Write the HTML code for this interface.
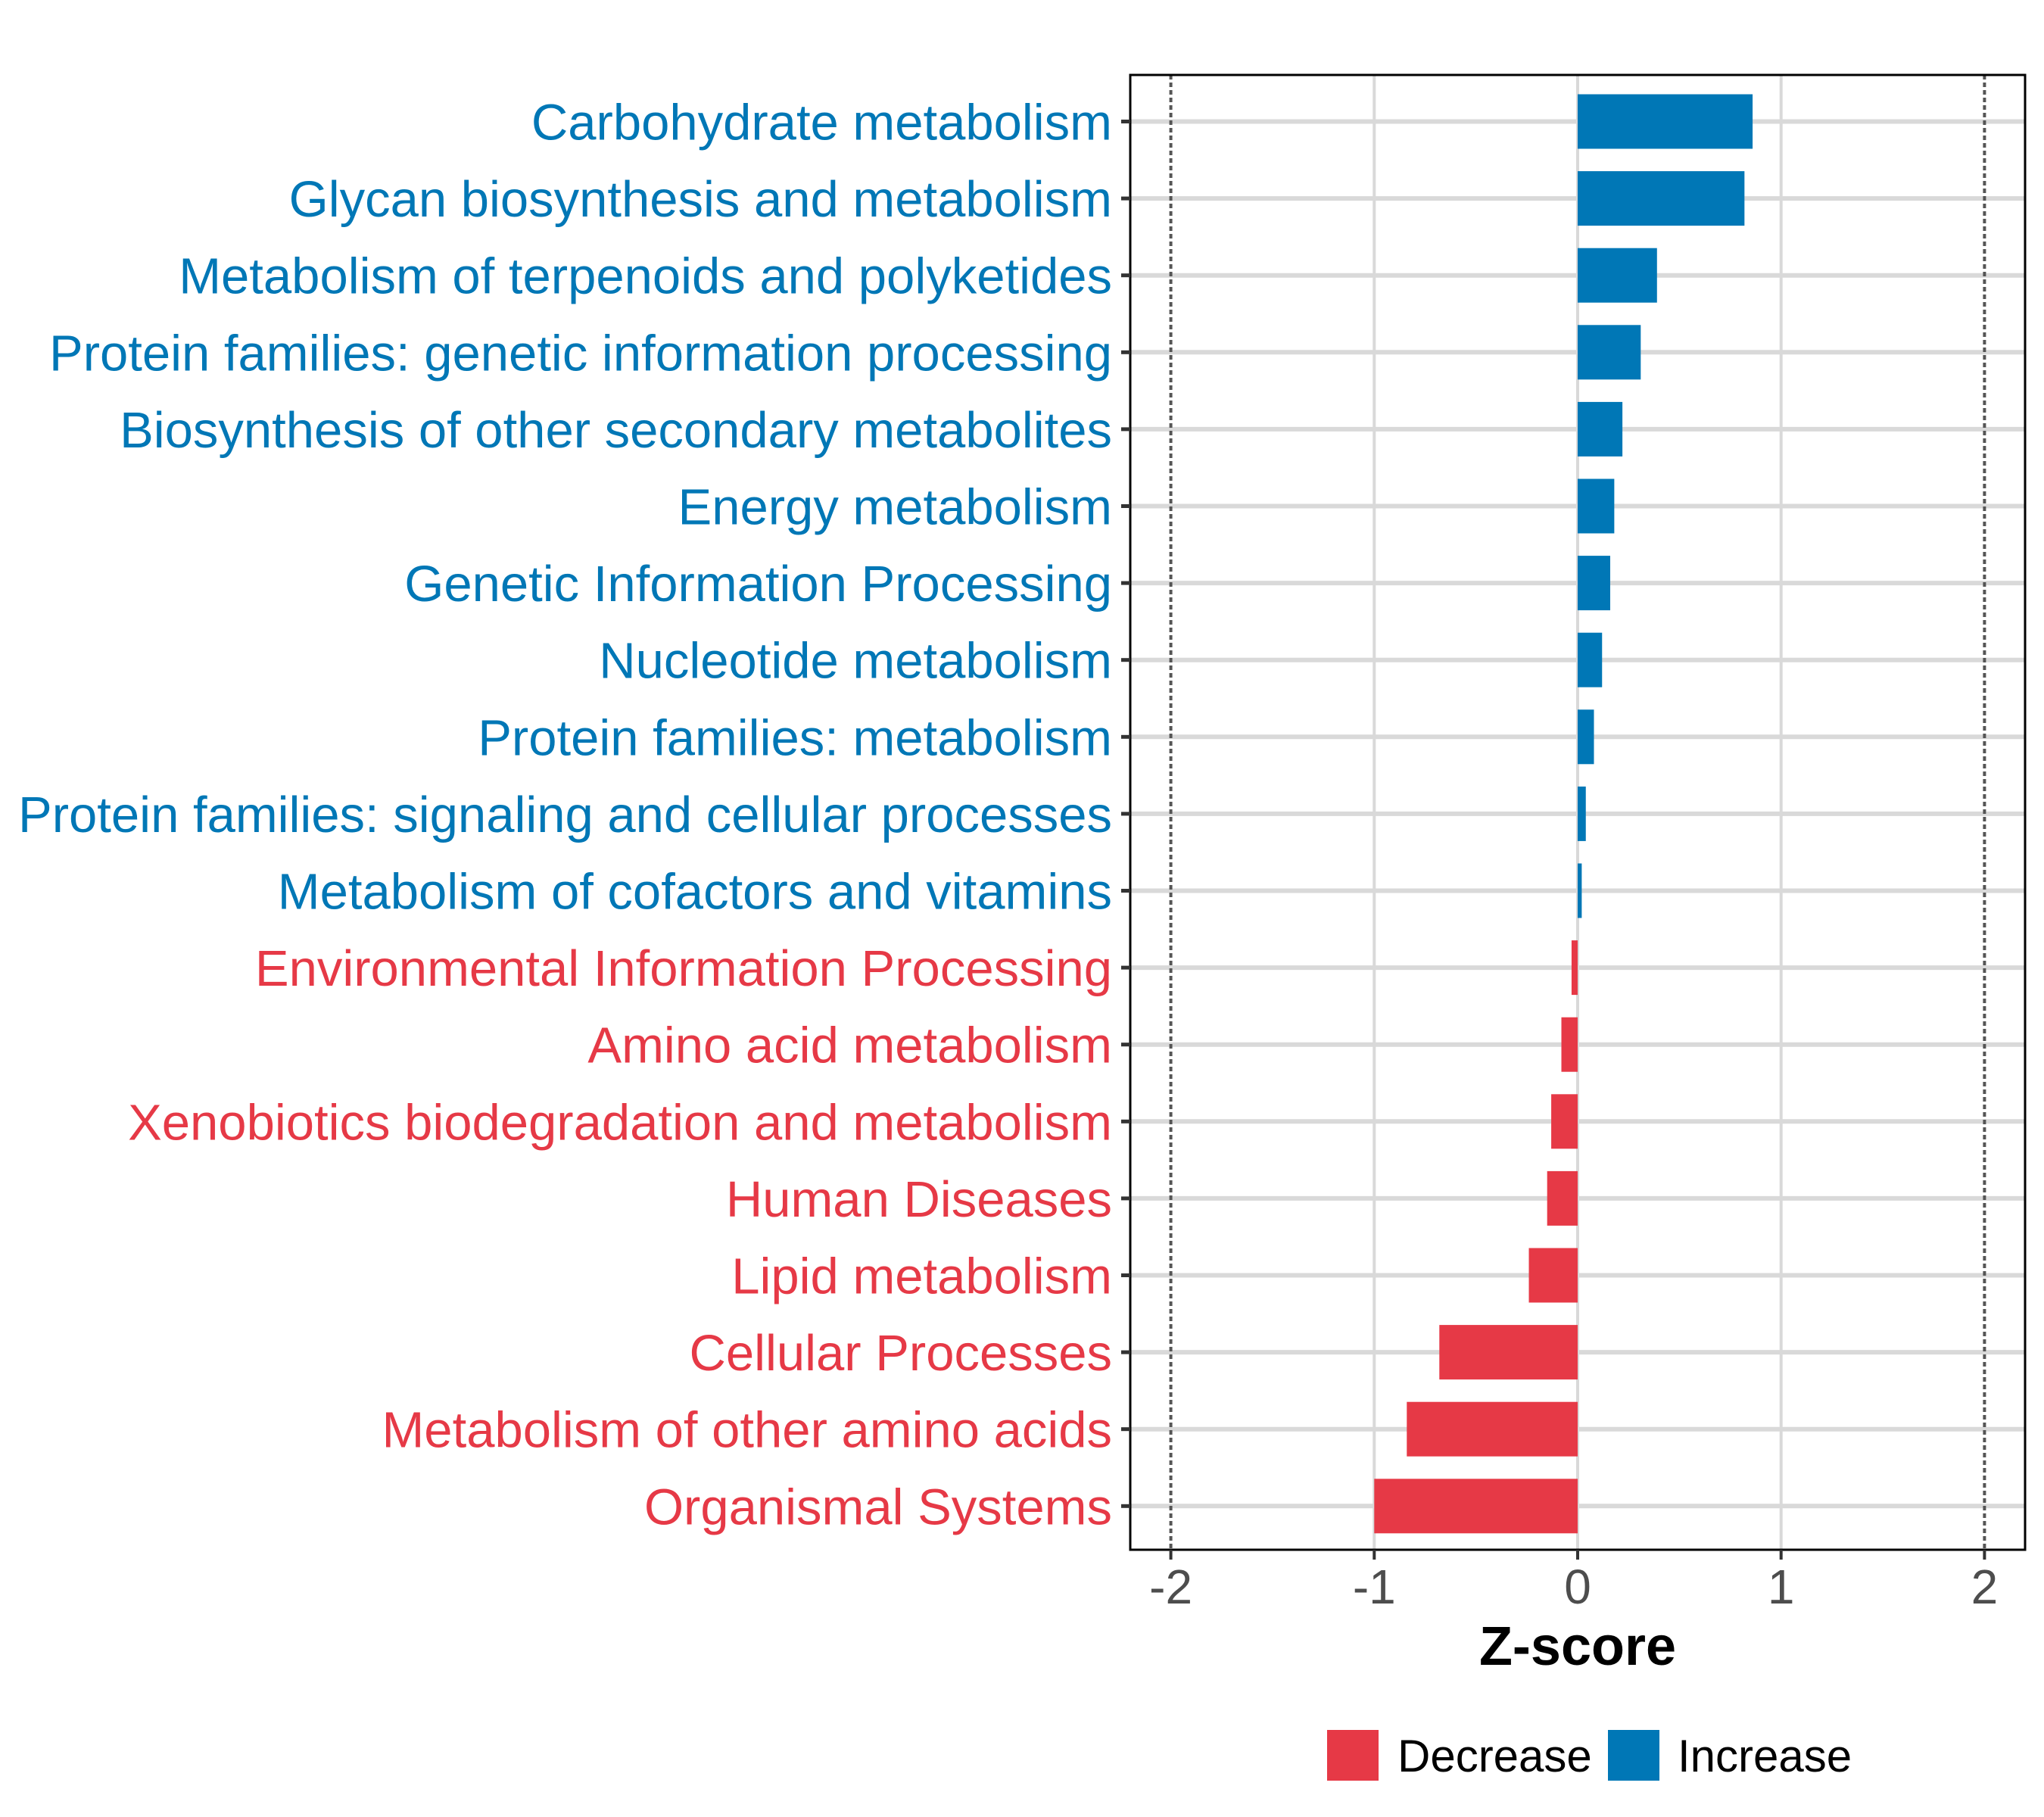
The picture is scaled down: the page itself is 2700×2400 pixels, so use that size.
<!DOCTYPE html>
<html><head><meta charset="utf-8"><style>
html,body{margin:0;padding:0;background:#fff;}
svg{display:block;}
text{font-family:"Liberation Sans",sans-serif;}
</style></head><body>
<svg id="chart" width="2700" height="2400" viewBox="0 0 2700 2400" xmlns="http://www.w3.org/2000/svg">
<rect width="2700" height="2400" fill="#fff"/>
<g id="grid"></g>
<g id="bars"></g>
<g id="frame"></g>
<g id="labels"></g>
<g id="xaxis"></g>
<text x="2084" y="2199" text-anchor="middle" font-size="72" font-weight="bold" fill="#000">Z-score</text>
<g>
<rect x="1753" y="2285" width="68" height="67" fill="#E63946"/>
<text x="1846" y="2340" font-size="60" fill="#000">Decrease</text>
<rect x="2124" y="2285" width="68" height="67" fill="#0077B6"/>
<text x="2216" y="2340" font-size="60" fill="#000">Increase</text>
</g>
</svg>
<script>
const categories = ["Carbohydrate metabolism","Glycan biosynthesis and metabolism","Metabolism of terpenoids and polyketides","Protein families: genetic information processing","Biosynthesis of other secondary metabolites","Energy metabolism","Genetic Information Processing","Nucleotide metabolism","Protein families: metabolism","Protein families: signaling and cellular processes","Metabolism of cofactors and vitamins","Environmental Information Processing","Amino acid metabolism","Xenobiotics biodegradation and metabolism","Human Diseases","Lipid metabolism","Cellular Processes","Metabolism of other amino acids","Organismal Systems"];
const zscores = [0.86,0.82,0.39,0.31,0.22,0.18,0.16,0.12,0.08,0.04,0.02,-0.03,-0.08,-0.13,-0.15,-0.24,-0.68,-0.84,-1.0];
const xTicks = [-2,-1,0,1,2];
const xTickLabels = ["-2","-1","0","1","2"];
const thresholds = [-2,2];

const NS="http://www.w3.org/2000/svg";
const PL=1493, PR=2675, PT=99, PB=2047;
const X0=2084, XU=268.7;
const xs = v => X0 + v*XU;
const Y1=160.5, YS=101.6;
const ys = i => Y1 + i*YS;
const BLUE="#0077B6", RED="#E63946";
function mk(tag, attrs, parent){const e=document.createElementNS(NS,tag);for(const k in attrs)e.setAttribute(k,attrs[k]);parent.appendChild(e);return e;}
const grid=document.getElementById('grid'), bars=document.getElementById('bars'), frame=document.getElementById('frame'), labels=document.getElementById('labels'), xaxis=document.getElementById('xaxis');

xTicks.forEach((t,i)=>{
  if(thresholds.indexOf(t)<0){
    const g=mk('line',{x1:xs(t),x2:xs(t),y1:PT,y2:PB,stroke:"#d9d9d9","stroke-width":4},grid);
    
    
  }
});
categories.forEach((c,i)=>{
  const g=mk('line',{x1:PL,x2:PR,y1:ys(i),y2:ys(i),stroke:"#d9d9d9","stroke-width":6},grid);
  
  
});
thresholds.forEach(t=>{
  const l=mk('line',{x1:xs(t),x2:xs(t),y1:PT,y2:PB,stroke:"#555","stroke-width":4,"stroke-dasharray":"6 4"},grid);
  
  
});
categories.forEach((c,i)=>{
  const v=zscores[i];
  const col=v>=0?BLUE:RED;
  const x=Math.min(xs(0),xs(v)), w=Math.abs(xs(v)-xs(0));
  const r=mk('rect',{x:x,y:ys(i)-36,width:w,height:72,fill:col},bars);
  
  
  const t=mk('text',{x:1469,y:ys(i)+24,"text-anchor":"end","font-size":67,fill:col},labels);
  t.textContent=c;
  
  
  const tk=mk('line',{x1:1481,x2:PL,y1:ys(i),y2:ys(i),stroke:"#333","stroke-width":5},labels);
  
  
});
const b=mk('rect',{x:PL,y:PT,width:PR-PL,height:PB-PT,fill:"none",stroke:"#000","stroke-width":3},frame);


xTicks.forEach((t,i)=>{
  const tk=mk('line',{x1:xs(t),x2:xs(t),y1:PB,y2:PB+13,stroke:"#333","stroke-width":4},xaxis);
  
  
  const tl=mk('text',{x:xs(t),y:2118,"text-anchor":"middle","font-size":64,fill:"#4d4d4d"},xaxis);
  tl.textContent=xTickLabels[i];
  
  
});
</script>
</body></html>
